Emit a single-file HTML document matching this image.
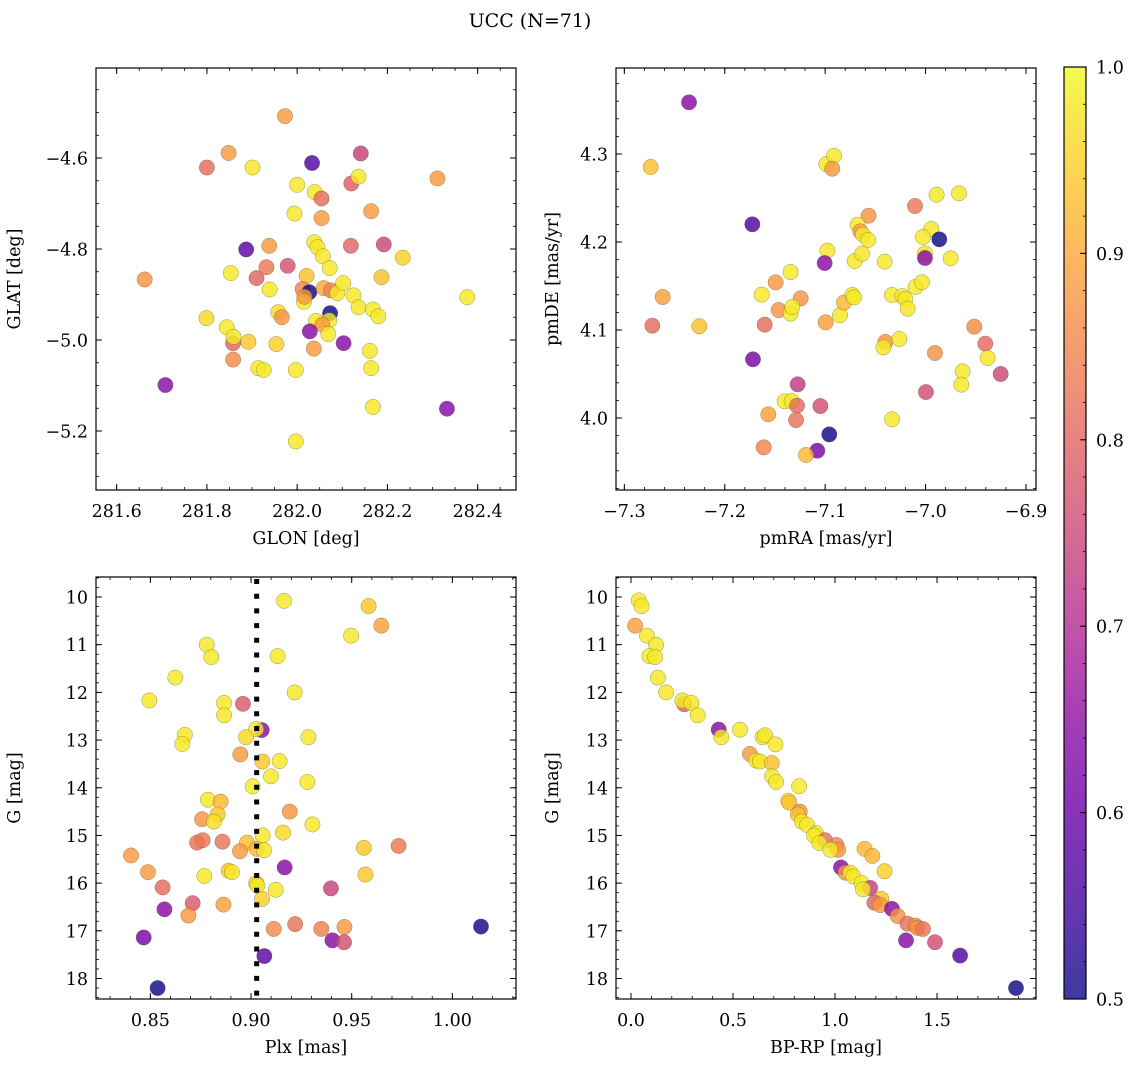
<!DOCTYPE html>
<html><head><meta charset="utf-8"><style>
html,body{margin:0;padding:0;background:#fff}
svg{display:block;font-family:"DejaVu Serif","Liberation Serif",serif}
</style></head><body>
<svg id="fig" width="1136" height="1067" viewBox="0 0 1136 1067" xmlns="http://www.w3.org/2000/svg">
<defs>
<linearGradient id="plasmaGrad" x1="0" y1="1" x2="0" y2="0">
<stop offset="0" stop-color="#0d0887"/><stop offset="0.1" stop-color="#41049d"/><stop offset="0.2" stop-color="#6a00a8"/><stop offset="0.3" stop-color="#8f0da4"/><stop offset="0.4" stop-color="#b12a90"/><stop offset="0.5" stop-color="#cc4778"/><stop offset="0.6" stop-color="#e16462"/><stop offset="0.7" stop-color="#f2844b"/><stop offset="0.8" stop-color="#fca636"/><stop offset="0.9" stop-color="#fcce25"/><stop offset="1" stop-color="#f0f921"/>
</linearGradient>
</defs>
<text x="530" y="27" font-size="19" text-anchor="middle">UCC (N=71)</text>
</svg>
<script>
// ---- data: top-left (sky position) ----
const glon=[281.973,281.848,281.800,281.901,282.033,282.141,282.311,282.120,282.136,282.000,282.039,282.054,281.994,282.054,282.164,282.038,282.045,282.057,282.072,281.938,281.887,282.119,282.192,282.234,281.662,281.853,281.932,281.979,281.910,282.021,282.187,282.377,281.939,282.012,282.027,282.015,282.059,282.075,282.089,282.102,282.125,282.136,282.073,282.071,281.799,282.168,282.180,281.958,281.966,282.042,282.056,282.069,281.844,281.858,281.859,281.892,281.954,282.028,282.103,282.037,281.858,282.161,281.914,281.926,281.997,282.164,281.708,282.168,282.332,281.997,282.016];
const glat=[-4.508,-4.589,-4.621,-4.621,-4.611,-4.590,-4.645,-4.656,-4.641,-4.659,-4.675,-4.689,-4.722,-4.732,-4.717,-4.785,-4.796,-4.816,-4.842,-4.793,-4.801,-4.793,-4.790,-4.819,-4.867,-4.853,-4.840,-4.837,-4.864,-4.859,-4.862,-4.906,-4.889,-4.888,-4.895,-4.916,-4.886,-4.891,-4.897,-4.875,-4.902,-4.928,-4.941,-4.957,-4.952,-4.933,-4.948,-4.939,-4.950,-4.958,-4.966,-4.987,-4.972,-5.007,-4.993,-5.004,-5.009,-4.981,-5.007,-5.019,-5.043,-5.024,-5.062,-5.066,-5.066,-5.062,-5.099,-5.147,-5.151,-5.223,-4.905];
const probTL=[.88,.88,.81,.98,.57,.74,.88,.79,.98,.98,.98,.81,.98,.88,.88,.98,.98,.98,.98,.88,.58,.80,.75,.95,.87,.98,.83,.77,.80,.93,.93,.98,.98,.85,.5,.98,.9,.84,.98,.98,.98,.98,.5,.98,.96,.98,.98,.96,.87,.98,.88,.98,.98,.8,.98,.94,.95,.64,.64,.88,.86,.98,.98,.98,.98,.98,.64,.98,.64,.98,.88];
// ---- data: top-right (proper motions) ----
const pmra=[-7.2356,-7.2738,-7.0988,-7.0912,-7.0929,-6.989,-6.9667,-7.0105,-7.1725,-7.0567,-7.0676,-7.065,-7.0623,-7.057,-6.9943,-7.0026,-6.9863,-7.0978,-7.1005,-7.0006,-7.0006,-6.975,-7.0706,-7.0633,-7.0407,-7.1344,-7.1493,-7.1632,-7.2618,-7.1244,-7.1463,-7.1344,-7.1327,-7.0852,-7.0812,-7.0729,-7.0713,-7.0334,-7.0232,-7.0202,-7.0178,-7.0099,-7.0036,-7.2721,-7.2253,-7.1602,-7.0995,-6.9515,-6.9405,-6.9382,-6.9252,-7.04,-7.042,-7.0261,-6.9906,-6.9631,-6.9644,-6.9996,-7.1719,-7.1274,-7.1403,-7.1334,-7.128,-7.1048,-7.1566,-7.129,-7.0334,-7.0959,-7.1078,-7.1612,-7.1191];
const pmde=[4.3587,4.2852,4.2886,4.2981,4.2833,4.2538,4.2553,4.2409,4.2201,4.2299,4.2197,4.2121,4.2083,4.2023,4.2148,4.2057,4.203,4.1902,4.1761,4.1871,4.1818,4.1814,4.1784,4.1867,4.1777,4.1659,4.1542,4.1402,4.1375,4.1360,4.1227,4.1186,4.1261,4.1167,4.1311,4.1398,4.1371,4.1398,4.1386,4.1352,4.1242,4.1489,4.1542,4.1049,4.1042,4.1061,4.1087,4.1038,4.0845,4.0682,4.05,4.0864,4.0803,4.0898,4.0739,4.053,4.0379,4.0295,4.0667,4.0383,4.0189,4.0193,4.014,4.0136,4.0042,3.9977,3.9985,3.9814,3.9629,3.9667,3.958];
const probTR=[.64,.93,.98,.98,.88,.98,.98,.83,.57,.87,.98,.88,.98,.98,.98,.98,.5,.98,.64,.98,.64,.98,.98,.98,.98,.98,.88,.98,.89,.87,.87,.98,.98,.98,.92,.98,.98,.98,.98,.98,.98,.98,.98,.81,.93,.81,.89,.86,.81,.98,.75,.87,.98,.98,.87,.98,.98,.76,.62,.73,.98,.98,.81,.76,.89,.82,.98,.5,.62,.85,.92];
// ---- data: bottom-left (parallax vs G) ----
const plx=[0.9164,0.9584,0.9647,0.9497,0.878,0.8803,0.9132,0.8624,0.8495,0.8866,0.896,0.8866,0.9217,0.9053,0.9025,0.8975,0.9285,0.8671,0.8659,0.8947,0.9056,0.9142,0.9099,0.928,0.9008,0.8786,0.8849,0.8834,0.8757,0.8816,0.9192,0.9305,0.9058,0.9159,0.8732,0.876,0.8858,0.898,0.8945,0.9028,0.9065,0.956,0.9733,0.8404,0.9167,0.8488,0.8768,0.8889,0.8906,0.9568,0.9026,0.9031,0.9123,0.8561,0.9397,0.9055,0.871,0.8863,0.857,0.8689,0.9219,0.9113,0.9349,0.9464,1.0142,0.8467,0.9404,0.9462,0.9066,0.8536];
const gPlx=[10.08,10.19,10.60,10.81,11.0,11.26,11.24,11.69,12.17,12.22,12.24,12.48,12.0,12.79,12.77,12.94,12.94,12.89,13.08,13.30,13.45,13.44,13.76,13.88,13.97,14.25,14.29,14.56,14.66,14.71,14.50,14.77,15.0,14.94,15.15,15.10,15.13,15.15,15.33,15.28,15.31,15.26,15.22,15.42,15.67,15.77,15.85,15.74,15.77,15.82,16.0,16.05,16.14,16.09,16.11,16.33,16.42,16.45,16.55,16.68,16.86,16.96,16.96,16.92,16.91,17.14,17.20,17.24,17.53,18.20];
const probBL=[.98,.94,.89,.98,.98,.98,.98,.98,.98,.98,.78,.98,.98,.64,.98,.96,.98,.98,.98,.88,.94,.98,.98,.98,.98,.98,.92,.94,.87,.97,.87,.98,.98,.96,.82,.83,.82,.93,.88,.92,.98,.94,.83,.88,.64,.88,.98,.94,.98,.94,.95,.98,.98,.81,.74,.95,.78,.89,.64,.88,.82,.86,.84,.88,.5,.62,.64,.76,.58,.5];
const plxRef=[0.9028];
// ---- data: bottom-right (CMD) ----
const bprp=[0.038,0.052,0.020,0.078,0.123,0.090,0.118,0.132,0.172,0.261,0.252,0.296,0.327,0.430,0.443,0.534,0.645,0.657,0.708,0.583,0.613,0.632,0.690,0.691,0.711,0.824,0.771,0.775,0.827,0.817,0.837,0.863,0.907,0.897,0.951,0.923,1.007,1.015,0.977,1.145,1.183,1.243,1.029,1.051,1.075,1.090,1.131,1.172,1.137,1.227,1.193,1.222,1.279,1.307,1.355,1.394,1.404,1.431,1.348,1.490,1.613,1.887];
const gCmd=[10.07,10.19,10.60,10.81,11.0,11.24,11.26,11.69,12.0,12.25,12.17,12.22,12.48,12.78,12.94,12.78,12.94,12.90,13.09,13.29,13.43,13.45,13.48,13.76,13.88,13.97,14.27,14.31,14.50,14.56,14.71,14.78,14.95,15.0,15.10,15.16,15.20,15.30,15.30,15.28,15.43,15.75,15.67,15.78,15.78,15.86,16.0,16.10,16.13,16.33,16.41,16.46,16.54,16.69,16.85,16.89,16.94,16.96,17.20,17.24,17.52,18.20];
const probBR=[.98,.98,.89,.98,.98,.98,.98,.98,.98,.80,.98,.98,.98,.64,.98,.98,.98,.98,.98,.88,.98,.98,.93,.98,.98,.98,.98,.93,.87,.93,.98,.98,.98,.98,.82,.98,.85,.87,.98,.92,.92,.95,.64,.87,.98,.98,.98,.74,.98,.94,.80,.88,.64,.87,.82,.86,.87,.82,.64,.76,.57,.5];
// ---- ticks ----
const ticksGlon=[281.6,281.8,282.0,282.2,282.4];
const ticksGlat=[-4.6,-4.8,-5.0,-5.2];
const ticksPmra=[-7.3,-7.2,-7.1,-7.0,-6.9];
const ticksPmde=[4.0,4.1,4.2,4.3];
const ticksPlx=[0.85,0.90,0.95,1.00];
const ticksG=[10,11,12,13,14,15,16,17,18];
const ticksBp=[0.0,0.5,1.0,1.5];
const ticksCbar=[0.5,0.6,0.7,0.8,0.9,1.0];

const NS='http://www.w3.org/2000/svg';
const svg=document.getElementById('fig');
function mk(tag,attrs,parent){const e=document.createElementNS(NS,tag);for(const k in attrs)e.setAttribute(k,attrs[k]);(parent||svg).appendChild(e);return e;}
const stops=[[13,8,135],[65,4,157],[106,0,168],[143,13,164],[177,42,144],[204,71,120],[225,100,98],[242,132,75],[252,166,54],[252,206,37],[240,249,33]];
function plasma(v){let t=Math.max(0,Math.min(1,(v-0.5)/0.5))*10;const i=Math.min(9,Math.floor(t)),f=t-i;const a=stops[i],b=stops[i+1];return 'rgb('+a.map((x,k)=>Math.round(x+(b[k]-x)*f)).join(',')+')';}
function fmt(v,d){return v.toFixed(d).replace('-','\u2212');}
const FS=17.5;

function panel(name,box,xr,yr,xt,yt,xminor,yminor,xd,yd,xlab,ylab,xs,ys,cs,extra){
  const g=mk('g',{},svg);
  
  
  const sx=v=>box.x+(v-xr[0])/(xr[1]-xr[0])*box.w;
  const sy=v=>box.y+(v-yr[0])/(yr[1]-yr[0])*box.h;
  const cg=mk('g',{},g);
  
  
  if(extra) extra(g,sx,sy);
  for(let i=0;i<xs.length;i++){
    const c=mk('circle',{cx:sx(xs[i]),cy:sy(ys[i]),r:7.7,fill:plasma(cs[i]),'fill-opacity':0.82,stroke:'#5a5a30','stroke-width':0.5,'stroke-opacity':0.6},cg);
    
    
  }
  const fr=mk('rect',{x:box.x,y:box.y,width:box.w,height:box.h,fill:'none',stroke:'#000','stroke-width':1.2},g);
  
  
  const lo=Math.min(xr[0],xr[1]),hi=Math.max(xr[0],xr[1]);
  for(let v=Math.ceil(lo/xminor-1e-6)*xminor;v<=hi+1e-9;v+=xminor){const X=sx(v);mk('line',{x1:X,x2:X,y1:box.y+box.h,y2:box.y+box.h-3,stroke:'#000','stroke-width':0.8},g);mk('line',{x1:X,x2:X,y1:box.y,y2:box.y+3,stroke:'#000','stroke-width':0.8},g);}
  const ylo=Math.min(yr[0],yr[1]),yhi=Math.max(yr[0],yr[1]);
  for(let v=Math.ceil(ylo/yminor-1e-6)*yminor;v<=yhi+1e-9;v+=yminor){const Y=sy(v);mk('line',{x1:box.x,x2:box.x+3,y1:Y,y2:Y,stroke:'#000','stroke-width':0.8},g);mk('line',{x1:box.x+box.w,x2:box.x+box.w-3,y1:Y,y2:Y,stroke:'#000','stroke-width':0.8},g);}
  xt.forEach(v=>{const X=sx(v);mk('line',{x1:X,x2:X,y1:box.y+box.h,y2:box.y+box.h-6,stroke:'#000','stroke-width':1},g);mk('line',{x1:X,x2:X,y1:box.y,y2:box.y+6,stroke:'#000','stroke-width':1},g);
    const t=mk('text',{x:X,y:box.y+box.h+27,'font-size':FS,'text-anchor':'middle'},g);t.textContent=fmt(v,xd);
    
    });
  yt.forEach(v=>{const Y=sy(v);mk('line',{x1:box.x,x2:box.x+6,y1:Y,y2:Y,stroke:'#000','stroke-width':1},g);mk('line',{x1:box.x+box.w,x2:box.x+box.w-6,y1:Y,y2:Y,stroke:'#000','stroke-width':1},g);
    const t=mk('text',{x:box.x-8,y:Y+6.5,'font-size':FS,'text-anchor':'end'},g);t.textContent=fmt(v,yd);
    
    });
  const xl=mk('text',{x:box.x+box.w/2,y:box.y+box.h+54,'font-size':FS,'text-anchor':'middle'},g);xl.textContent=xlab;
  
  
  const yx=box.x-(box.x<300?76:58),yc=box.y+box.h/2;
  const yl=mk('text',{x:yx,y:yc,'font-size':FS,'text-anchor':'middle',transform:'rotate(-90 '+yx+' '+yc+')'},g);yl.textContent=ylab;
  
  
}
panel('position-panel',{x:96,y:68,w:420,h:422},[281.5542,282.485],[-4.4022,-5.3297],ticksGlon,ticksGlat,0.05,0.05,1,1,'GLON [deg]','GLAT [deg]',glon,glat,probTL);
panel('proper-motion-panel',{x:616,y:68,w:420,h:422},[-7.3083,-6.890],[4.3977,3.9182],ticksPmra,ticksPmde,0.02,0.02,1,1,'pmRA [mas/yr]','pmDE [mas/yr]',pmra,pmde,probTR);
panel('parallax-panel',{x:96,y:577,w:420,h:422},[0.823,1.0316],[9.58,18.43],ticksPlx,ticksG,0.01,0.2,2,0,'Plx [mas]','G [mag]',plx,gPlx,probBL,(g,sx,sy)=>{
  const l=mk('line',{x1:sx(plxRef[0]),x2:sx(plxRef[0]),y1:579,y2:999,stroke:'#000','stroke-width':5,'stroke-dasharray':'5,9.7'},g);
  
  
});
panel('cmd-panel',{x:616,y:577,w:420,h:422},[-0.0735,1.985],[9.58,18.43],ticksBp,ticksG,0.1,0.2,1,0,'BP-RP [mag]','G [mag]',bprp,gCmd,probBR);
// colorbar
const cb={x:1064,y:67,w:22,h:932};
const cbg=mk('g',{},svg);


mk('rect',{x:cb.x,y:cb.y,width:cb.w,height:cb.h,fill:'url(#plasmaGrad)','fill-opacity':0.8,stroke:'#000','stroke-width':1.2},cbg);
const cy=v=>cb.y+(1-(v-0.5)/0.5)*cb.h;
for(let v=0.5;v<=1.0001;v+=0.02){mk('line',{x1:cb.x+cb.w,x2:cb.x+cb.w-3,y1:cy(v),y2:cy(v),stroke:'#000','stroke-width':0.8},cbg);}
ticksCbar.forEach(v=>{mk('line',{x1:cb.x+cb.w,x2:cb.x+cb.w-6,y1:cy(v),y2:cy(v),stroke:'#000','stroke-width':1},cbg);
  const t=mk('text',{x:1096,y:cy(v)+6.5,'font-size':FS},cbg);t.textContent=v.toFixed(1);
  
  });
</script>
</body></html>
